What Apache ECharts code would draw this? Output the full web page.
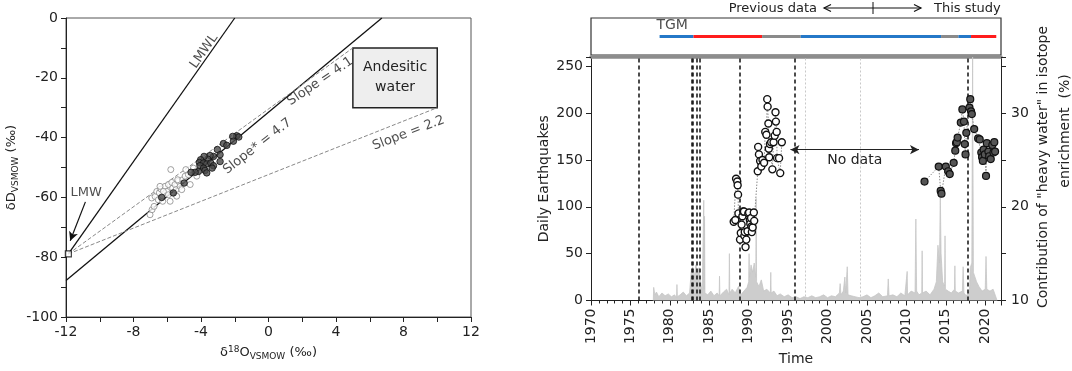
<!DOCTYPE html>
<html>
<head>
<meta charset="utf-8">
<script src="https://cdn.jsdelivr.net/npm/echarts@6/dist/echarts.min.js"></script>
<style>
html,body{margin:0;padding:0;background:#fff;}
#main{width:1072px;height:371px;}
</style>
</head>
<body>
<div id="main"></div>
<script>
// ---- left panel: dD vs d18O ----
var lmwPoint = [-11.86, -78.9];
var lmwlLine = [[-11.86, -78.9], [-2, 0]];
var slope47Line = [[-12, -87.8], [6.72, 0]];
var slope41Line = [[-11.86, -78.9], [5, -10]];
var slope22Line = [[-11.86, -78.9], [10, -30]];
var andesiticBox = [[5, -10], [10, -30]];

var prevIsotope = [
  [-7.02,-65.8],[-6.9,-64.1],[-6.78,-63.0],[-6.92,-60.2],[-6.72,-59.7],[-6.62,-58.0],
  [-6.47,-58.5],[-6.37,-57.2],[-6.53,-60.8],[-6.27,-61.3],[-6.13,-56.3],[-6.03,-58.0],
  [-5.93,-59.1],[-5.93,-55.7],[-5.83,-61.3],[-5.73,-55.0],[-5.79,-50.7],[-5.68,-56.9],
  [-5.54,-55.7],[-5.44,-59.6],[-5.48,-57.4],[-5.34,-54.6],[-5.24,-56.3],[-5.38,-54.1],
  [-5.08,-54.1],[-4.94,-52.9],[-4.9,-50.7],[-4.64,-55.7],[-4.75,-52.4],[-5.14,-57.4],
  [-6.23,-58.0],[-6.43,-56.3],[-4.25,-52.9],[-4.45,-50.2]
];
var thisIsotope = [
  [-1.88,-39.4],[-1.76,-39.8],[-2.12,-39.6],[-2.08,-41.2],[-2.67,-42.0],[-2.47,-42.6],
  [-3.03,-44.0],[-2.87,-45.7],[-3.26,-46.3],[-3.46,-46.0],[-3.6,-47.2],[-3.82,-46.3],
  [-4.02,-47.4],[-4.1,-48.3],[-3.85,-48.5],[-3.66,-48.8],[-3.42,-48.5],[-3.26,-49.4],
  [-3.34,-50.2],[-2.87,-48.0],[-4.06,-49.4],[-3.85,-50.2],[-3.76,-51.0],[-3.66,-51.8],
  [-4.15,-51.3],[-4.35,-51.6],[-4.59,-51.6],[-5.0,-55.2],[-5.64,-58.5],[-6.33,-60.0]
];

// ---- right panel: time series ----
var tgmBreaks = [1978.7, 1983.0, 1991.7, 1996.6, 2014.4, 2016.6, 2018.2, 2021.4];
var tgmState = ['b', 'r', 'g', 'b', 'g', 'b', 'r'];
var eventYears = [1976.0, 1982.76, 1982.9, 1983.47, 1983.73, 1988.9, 1995.87, 2017.78];
var minorEventYears = [1997.2, 2004.1];

var quakeDaily = [
  [1977.9,0],[1977.95,14],[1978.1,6],[1978.3,9],[1978.6,4],[1979.0,8],[1979.4,5],[1979.8,7],
  [1980.2,4],[1980.6,6],[1980.85,3],[1980.9,17],[1980.95,4],[1981.3,6],[1981.7,9],[1982.1,5],
  [1982.5,8],[1982.7,30],[1982.9,36],[1983.1,25],[1983.3,38],[1983.5,30],[1983.7,35],[1983.9,20],
  [1984.1,8],[1984.25,10],[1984.3,107],[1984.35,12],[1984.4,90],[1984.45,8],[1984.8,6],[1985.2,10],
  [1985.6,5],[1986.0,8],[1986.25,5],[1986.3,26],[1986.35,5],[1986.8,9],[1987.2,12],[1987.5,6],
  [1987.55,50],[1987.6,8],[1987.9,12],[1988.3,8],[1988.7,15],[1989.0,6],[1989.4,10],[1989.8,14],
  [1990.0,20],[1990.05,50],[1990.1,25],[1990.3,38],[1990.5,30],[1990.7,40],[1990.9,25],[1990.95,109],
  [1991.0,20],[1991.3,15],[1991.6,22],[1991.9,10],[1992.3,12],[1992.75,8],[1992.8,30],[1992.85,8],
  [1993.2,10],[1993.6,5],[1994.0,7],[1994.5,4],[1995.0,6],[1995.5,3],[1996.0,4],[1996.5,2],
  [1997.0,4],[1997.5,3],[1998.0,5],[1998.5,3],[1999.0,4],[1999.5,6],[2000.0,3],[2000.5,5],
  [2001.0,4],[2001.5,8],[2001.6,18],[2001.7,6],[2002.0,10],[2002.2,25],[2002.3,8],[2002.5,36],
  [2002.6,6],[2003.0,5],[2003.5,4],[2004.0,3],[2004.5,4],[2005.0,6],[2005.5,3],[2006.0,5],
  [2006.5,8],[2007.0,4],[2007.6,5],[2007.7,23],[2007.8,5],[2008.3,6],[2008.8,4],[2009.3,8],
  [2009.8,5],[2010.05,6],[2010.1,31],[2010.15,6],[2010.6,10],[2011.1,8],[2011.2,87],[2011.3,10],
  [2011.6,6],[2011.95,8],[2012.0,53],[2012.05,8],[2012.5,10],[2013.0,6],[2013.5,12],[2013.8,20],
  [2014.0,59],[2014.2,40],[2014.3,115],[2014.4,50],[2014.6,20],[2014.85,15],[2014.9,69],[2014.95,12],
  [2015.3,10],[2015.7,8],[2016.1,12],[2016.15,37],[2016.2,10],[2016.6,8],[2017.1,10],[2017.2,36],
  [2017.3,8],[2017.6,5],[2018.0,10],[2018.1,35],[2018.3,40],[2018.4,260],[2018.5,30],[2018.7,28],
  [2018.9,20],[2019.2,15],[2019.6,10],[2020.0,12],[2020.1,47],[2020.2,12],[2020.6,10],[2021.0,12],
  [2021.3,5],[2021.5,0]
];

var prevYears = [1988.1,1988.3,1988.4,1988.55,1988.6,1988.65,1988.7,1988.9,1989.0,1989.1,1989.2,1989.3,
  1989.4,1989.45,1989.5,1989.6,1989.7,1989.85,1989.95,1990.05,1990.15,1990.2,1990.3,1990.35,1990.4,
  1990.5,1990.65,1990.7,1991.15,1991.2,1991.3,1991.45,1991.6,1991.75,1991.95,1992.1,1992.25,1992.35,
  1992.4,1992.5,1992.55,1992.6,1992.7,1992.85,1993.0,1993.15,1993.3,1993.4,1993.45,1993.55,1993.6,
  1993.85,1994.0,1994.2];
var prevHeavy = [18.4,18.6,23.0,22.7,22.3,21.3,19.3,16.5,17.2,18.1,19.0,19.5,19.5,16.9,17.3,15.7,16.5,
  17.4,19.3,19.4,18.6,18.2,18.8,17.9,17.3,17.8,19.4,18.5,23.8,26.4,25.6,24.9,24.3,25.0,24.7,28.0,27.7,
  31.5,30.7,28.9,26.2,25.3,26.7,26.9,24.0,26.9,27.6,30.1,29.1,28.0,25.2,25.2,23.6,26.9];
var thisYears = [2012.3,2014.1,2014.35,2014.45,2015.0,2015.3,2015.5,2016.0,2016.2,2016.3,2016.4,2016.5,
  2016.9,2017.1,2017.3,2017.4,2017.5,2017.6,2018.0,2018.1,2018.2,2018.3,2018.6,2019.1,2019.3,2019.5,
  2019.6,2019.7,2019.8,2019.95,2020.1,2020.2,2020.4,2020.5,2020.7,2020.9,2021.05,2021.15,2021.25];
var thisHeavy = [22.7,24.3,21.7,21.4,24.3,23.8,23.5,24.7,26.0,26.8,26.9,27.4,29.0,30.4,29.1,26.7,25.6,
  27.9,30.6,31.5,30.2,29.9,28.3,27.3,27.2,25.8,25.3,24.9,26.1,25.6,23.3,26.8,25.9,25.4,25.1,26.6,
  25.8,26.9,25.9];

var FONT = 'DejaVu Sans';
var tgmColor = {b: '#2478c8', r: '#ff1c1c', g: '#8a8a8a'};

function zip(xs, ys) {
  var out = [];
  for (var i = 0; i < xs.length; i++) out.push([xs[i], ys[i]]);
  return out;
}

var chart = echarts.init(document.getElementById('main'));

var series = [];

// left panel lines
function refLine(data, color, width, type) {
  return {
    type: 'line', xAxisIndex: 0, yAxisIndex: 0, data: data, symbol: 'none', silent: true,
    lineStyle: {color: color, width: width, type: type}, z: 2
  };
}
series.push(refLine(lmwlLine, '#111', 1.3, 'solid'));
series.push(refLine(slope47Line, '#111', 1.3, 'solid'));
series.push(refLine(slope41Line, '#888', 1, [4, 2]));
var s22 = refLine(slope22Line, '#888', 1, [4, 2]);
s22.markArea = {
  silent: true,
  itemStyle: {color: '#eeeeee', borderColor: '#222', borderWidth: 1.5},
  label: {show: true, position: 'inside', formatter: 'Andesitic\nwater', fontFamily: FONT,
    fontSize: 14, lineHeight: 20, color: '#222'},
  data: [[{coord: andesiticBox[0]}, {coord: andesiticBox[1]}]]
};
s22.markLine = {
  silent: true, symbol: ['none', 'arrow'], symbolSize: [7, 9],
  lineStyle: {color: '#111', width: 1.2, type: 'solid'}, label: {show: false},
  data: [[{coord: [-10.85, -61.5]}, {coord: [-11.75, -74.5]}]]
};
series.push(s22);

series.push({
  type: 'scatter', xAxisIndex: 0, yAxisIndex: 0, data: prevIsotope, symbol: 'circle', symbolSize: 6,
  itemStyle: {color: '#fff', borderColor: '#8a8a8a', borderWidth: 1}, z: 3
});
series.push({
  type: 'scatter', xAxisIndex: 0, yAxisIndex: 0, data: thisIsotope, symbol: 'circle', symbolSize: 6.5,
  itemStyle: {color: '#4a4a4a', borderColor: '#111', borderWidth: 1}, z: 4
});
series.push({
  type: 'scatter', xAxisIndex: 0, yAxisIndex: 0, data: [lmwPoint], symbol: 'rect', symbolSize: 6,
  itemStyle: {color: '#fff', borderColor: '#111', borderWidth: 1.2}, z: 5
});
// left panel annotations
series.push({
  type: 'scatter', xAxisIndex: 0, yAxisIndex: 0, symbolSize: 0, silent: true, z: 6,
  label: {show: true, position: 'inside', formatter: '{b}', fontFamily: FONT, fontSize: 13, color: '#222'},
  data: [
    {name: 'LMWL', value: [-3.82, -11.1], label: {rotate: 55}},
    {name: 'Slope = 4.1', value: [3.06, -21.2], label: {rotate: 34}},
    {name: 'Slope* = 4.7', value: [-0.66, -42.9], label: {rotate: 38}},
    {name: 'Slope = 2.2', value: [8.3, -38.5], label: {rotate: 21}},
    {name: 'LMW', value: [-10.81, -58.3], label: {rotate: 0}}
  ]
});

// right panel: TGM strip
for (var i = 0; i < tgmState.length; i++) {
  series.push({
    type: 'line', xAxisIndex: 1, yAxisIndex: 1, symbol: 'none', silent: true,
    data: [[tgmBreaks[i], 0.5], [tgmBreaks[i + 1], 0.5]],
    lineStyle: {color: tgmColor[tgmState[i]], width: 3}
  });
}
series.push({
  type: 'scatter', xAxisIndex: 1, yAxisIndex: 1, symbolSize: 0, silent: true,
  data: [{name: 'TGM', value: [1980.3, 0.8]}],
  label: {show: true, position: 'inside', formatter: '{b}', fontFamily: FONT, fontSize: 14, color: '#222'}
});

// right panel: daily earthquakes
var eventLines = [];
eventYears.forEach(function (y) {
  eventLines.push({xAxis: y, lineStyle: {color: '#111', type: [4, 3], width: 1.5}});
});
minorEventYears.forEach(function (y) {
  eventLines.push({xAxis: y, lineStyle: {color: '#c8c8c8', type: [2, 2], width: 1}});
});
eventLines.push([
  {coord: [1995.3, 161], symbol: 'arrow', lineStyle: {color: '#222', type: 'solid', width: 1},
    label: {show: true, position: 'insideMiddleBottom', formatter: 'No data', fontFamily: FONT,
      fontSize: 14, color: '#222', distance: 4}},
  {coord: [2011.6, 161], symbol: 'arrow'}
]);
series.push({
  type: 'line', xAxisIndex: 2, yAxisIndex: 2, data: quakeDaily, symbol: 'none', silent: true,
  lineStyle: {color: '#c6c6c6', width: 0.8}, areaStyle: {color: '#cdcdcd', opacity: 1}, z: 1,
  markLine: {
    silent: true, symbol: 'none', symbolSize: [7, 9], label: {show: false}, animation: false,
    data: eventLines
  }
});

// right panel: heavy water contribution
series.push({
  type: 'line', xAxisIndex: 2, yAxisIndex: 3, data: zip(prevYears, prevHeavy), symbol: 'circle',
  symbolSize: 7, showAllSymbol: true,
  lineStyle: {color: '#8a8a8a', width: 1, type: [1.5, 1.5]},
  itemStyle: {color: '#fff', borderColor: '#111', borderWidth: 1.4}, z: 5
});
series.push({
  type: 'line', xAxisIndex: 2, yAxisIndex: 3, data: zip(thisYears, thisHeavy), symbol: 'circle',
  symbolSize: 7, showAllSymbol: true,
  lineStyle: {color: '#8a8a8a', width: 1, type: [1.5, 1.5]},
  itemStyle: {color: '#555', borderColor: '#111', borderWidth: 1.2}, z: 5
});

chart.setOption({
  animation: false,
  textStyle: {fontFamily: FONT},
  grid: [
    {left: 66, top: 18, width: 405, height: 299, show: true, borderColor: '#555', borderWidth: 1},
    {left: 591, top: 18, width: 410, height: 37, show: true, borderColor: '#333', borderWidth: 1.2},
    {left: 591, top: 57, width: 410, height: 258}
  ],
  xAxis: [
    {
      gridIndex: 0, type: 'value', min: -12, max: 12, interval: 4,
      axisLine: {onZero: false, lineStyle: {color: '#222'}}, axisTick: {length: 5, lineStyle: {color: '#222'}},
      minorTick: {show: true, splitNumber: 2, length: 5, lineStyle: {color: '#222'}},
      splitLine: {show: false},
      axisLabel: {fontFamily: FONT, fontSize: 14, color: '#222', margin: 8},
      name: '{m|δ}{p|18}{m|O}{s|VSMOW}{m| (‰)}', nameLocation: 'middle', nameGap: 28,
      nameTextStyle: {rich: {
        m: {fontFamily: FONT, fontSize: 13, color: '#222', lineHeight: 16},
        p: {fontFamily: FONT, fontSize: 9, color: '#222', lineHeight: 10, verticalAlign: 'top'},
        s: {fontFamily: FONT, fontSize: 9, color: '#222', lineHeight: 10, verticalAlign: 'bottom'}
      }}
    },
    {gridIndex: 1, type: 'value', min: 1970, max: 2022, show: false},
    {
      gridIndex: 2, type: 'value', min: 1970, max: 2022, interval: 5,
      axisLine: {onZero: false, lineStyle: {color: '#222'}},
      axisTick: {length: 5, lineStyle: {color: '#222'}},
      minorTick: {show: true, splitNumber: 5, length: 3, lineStyle: {color: '#222'}},
      splitLine: {show: false},
      axisLabel: {fontFamily: FONT, fontSize: 14, color: '#222', rotate: 90, margin: 8,
        formatter: function (v) { return v % 5 === 0 ? String(v) : ''; }},
      name: 'Time', nameLocation: 'middle', nameGap: 44,
      nameTextStyle: {fontFamily: FONT, fontSize: 14, color: '#222'}
    },
    {
      gridIndex: 2, type: 'value', min: 1970, max: 2022, position: 'top',
      axisLine: {show: true, onZero: false, lineStyle: {color: '#8c8c8c', width: 3.5}},
      axisTick: {show: false}, axisLabel: {show: false}, splitLine: {show: false}
    }
  ],
  yAxis: [
    {
      gridIndex: 0, type: 'value', min: -100, max: 0, interval: 20,
      axisLine: {onZero: false, lineStyle: {color: '#222'}}, axisTick: {length: 5, lineStyle: {color: '#222'}},
      minorTick: {show: true, splitNumber: 2, length: 5, lineStyle: {color: '#222'}},
      splitLine: {show: false},
      axisLabel: {fontFamily: FONT, fontSize: 14, color: '#222', margin: 8},
      name: '{m|δD}{s|VSMOW}{m| (‰)}', nameLocation: 'middle', nameGap: 46,
      nameTextStyle: {rich: {
        m: {fontFamily: FONT, fontSize: 13, color: '#222', lineHeight: 16},
        s: {fontFamily: FONT, fontSize: 9, color: '#222', lineHeight: 10, verticalAlign: 'bottom'}
      }}
    },
    {gridIndex: 1, type: 'value', min: 0, max: 1, show: false},
    {
      gridIndex: 2, type: 'value', min: 0, max: 260, interval: 50,
      axisLine: {show: true, onZero: false, lineStyle: {color: '#222'}},
      axisTick: {length: 5, lineStyle: {color: '#222'}},
      splitLine: {show: false},
      axisLabel: {fontFamily: FONT, fontSize: 14, color: '#222', margin: 8,
        formatter: function (v) { return v % 50 === 0 ? String(v) : ''; }},
      name: 'Daily Earthquakes', nameLocation: 'middle', nameGap: 40,
      nameTextStyle: {fontFamily: FONT, fontSize: 14, color: '#222'}
    },
    {
      gridIndex: 2, type: 'value', min: 10, max: 36, interval: 5, position: 'right',
      axisLine: {show: true, onZero: false, lineStyle: {color: '#222'}},
      axisTick: {length: 5, lineStyle: {color: '#222'}},
      splitLine: {show: false},
      axisLabel: {fontFamily: FONT, fontSize: 14, color: '#222', margin: 10,
        formatter: function (v) { return v % 10 === 0 ? String(v) : ''; }}
    }
  ],
  graphic: [
    {type: 'text', x: 817, y: 9, style: {text: 'Previous data', fontFamily: FONT, fontSize: 13,
      fill: '#222', align: 'right', verticalAlign: 'middle'}},
    {type: 'text', x: 934, y: 9, style: {text: 'This study', fontFamily: FONT, fontSize: 13,
      fill: '#222', align: 'left', verticalAlign: 'middle'}},
    {type: 'line', shape: {x1: 824, y1: 8, x2: 921, y2: 8}, style: {stroke: '#111', lineWidth: 1.2}},
    {type: 'line', shape: {x1: 873, y1: 2, x2: 873, y2: 14}, style: {stroke: '#111', lineWidth: 1}},
    {type: 'polyline', shape: {points: [[831, 4.5], [824, 8], [831, 11.5]]}, style: {stroke: '#111', lineWidth: 1.2, fill: null}},
    {type: 'polyline', shape: {points: [[914, 4.5], [921, 8], [914, 11.5]]}, style: {stroke: '#111', lineWidth: 1.2, fill: null}},
    {type: 'text', x: 1043, y: 167, rotation: Math.PI / 2,
      style: {text: 'Contribution of "heavy water" in isotope', fontFamily: FONT, fontSize: 14,
        fill: '#222', align: 'center', verticalAlign: 'middle'}},
    {type: 'text', x: 1065, y: 131, rotation: Math.PI / 2,
      style: {text: 'enrichment  (%)', fontFamily: FONT, fontSize: 14,
        fill: '#222', align: 'center', verticalAlign: 'middle'}}
  ],
  series: series
});
</script>
</body>
</html>
